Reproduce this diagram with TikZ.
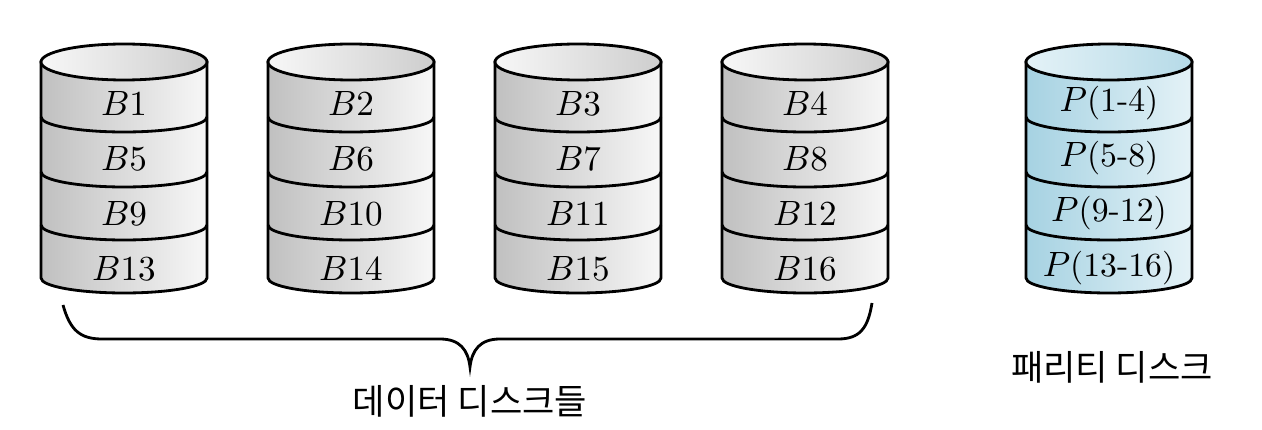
\documentclass[tikz,border=0pt]{standalone}
\usepackage{fontspec}
\newfontfamily\kofont{Noto Sans CJK KR}
\usetikzlibrary{positioning}

\definecolor{datadark}{RGB}{192,192,192}
\definecolor{datalight}{RGB}{247,247,247}
\definecolor{paritydark}{RGB}{166,210,226}
\definecolor{paritylight}{RGB}{228,242,247}

\begin{document}
\begin{tikzpicture}[x=0.1mm, y=0.1mm,
        sideface/.style={draw, line width=0.8pt, left color=#1dark, right color=#1light},
        topface/.style={draw, line width=0.8pt, left color=#1light, right color=#1dark!75!#1light},
        band/.style={line width=0.8pt},
        blocklabel/.style={font=\fontsize{9.6}{11}\selectfont, inner sep=0pt},
        grouplabel/.style={font=\kofont\fontsize{10}{12}\selectfont, inner sep=0pt},
        brace/.style={line width=0.8pt}
        ]

        \useasboundingbox (0,0) rectangle (1262,-430);

        % disks: centre x / colour / blocks from top to bottom
        \foreach \cx/\kind/\labs [count=\d] in {
                124/data/{$B1$,$B5$,$B9$,$B13$},
                351/data/{$B2$,$B6$,$B10$,$B14$},
                578/data/{$B3$,$B7$,$B11$,$B15$},
                805/data/{$B4$,$B8$,$B12$,$B16$},
                1109/parity/{$P$(1-4),$P$(5-8),$P$(9-12),$P$(13-16)}} {
            \path[sideface=\kind] (\cx-83,-62) -- (\cx-83,-278)
                arc[start angle=180, end angle=360, x radius=83, y radius=15]
                -- (\cx+83,-62) -- cycle;
            \path[topface=\kind] (\cx,-62) ellipse[x radius=83, y radius=18];
            \foreach \yy in {117,172,225}
                \draw[band] (\cx-83,-\yy) arc[start angle=180, end angle=360, x radius=83, y radius=15];
            \foreach \lab [count=\r] in \labs
                \node (disk\d-\r) [blocklabel] at (\cx,-103-55*\r+55) {\lab};
        }

        % brace under the data disks
        \coordinate (braceL) at (63,-305);
        \coordinate (braceTip) at (470,-367);
        \coordinate (braceR) at (872,-303);
        \draw[brace] (braceL) .. controls (70,-330) and (80,-339) .. (102,-339)
            -- (440,-339) .. controls (460,-339) and (468,-350) .. (braceTip)
            .. controls (472,-350) and (480,-339) .. (500,-339)
            -- (838,-339) .. controls (860,-339) and (868,-328) .. (braceR);

        \node (datalabel) [grouplabel, below=18 of braceTip] {데이터 디스크들};
        \node (paritylabel) [grouplabel] at (1112,-367) {패리티 디스크};

    \end{tikzpicture}
\end{document}
